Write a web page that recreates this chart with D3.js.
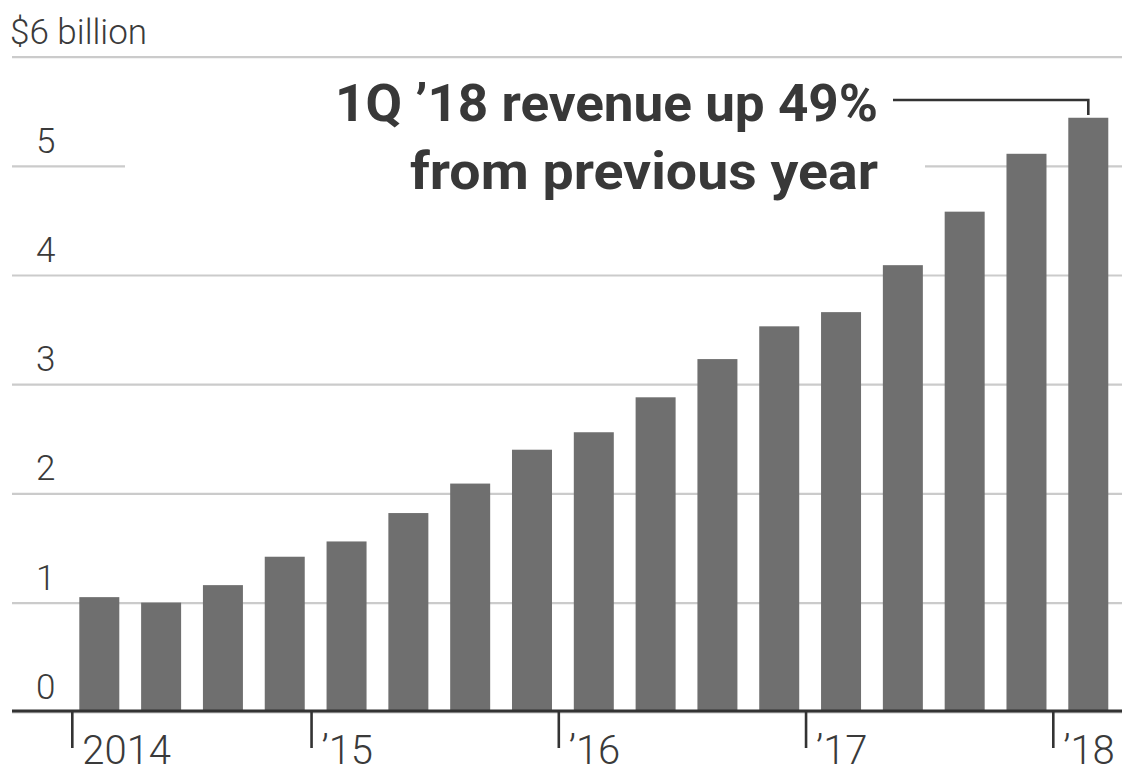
<!DOCTYPE html>
<html>
<head>
<meta charset="utf-8">
<script src="https://cdn.jsdelivr.net/npm/d3@7"></script>
<style>
  html, body { margin: 0; padding: 0; background: #fff; }
  svg { display: block; }
</style>
</head>
<body>
<svg id="chart" width="1127" height="774"></svg>
<script>
// ---- data ----
const quarters = ["1Q14","2Q14","3Q14","4Q14","1Q15","2Q15","3Q15","4Q15",
                  "1Q16","2Q16","3Q16","4Q16","1Q17","2Q17","3Q17","4Q17","1Q18"];
const revenue = [1.05, 1.00, 1.16, 1.42, 1.56, 1.82, 2.09, 2.40,
                 2.56, 2.88, 3.23, 3.53, 3.66, 4.09, 4.58, 5.11, 5.44];
const yTicks = [0, 1, 2, 3, 4, 5, 6];
const yearStarts = ["1Q14", "1Q15", "1Q16", "1Q17", "1Q18"];
const yearLabels = ["2014", "\u201915", "\u201916", "\u201917", "\u201918"];
const unitLabel = "$6 billion";
const noteLines = ["1Q \u201918 revenue up 49%", "from previous year"];
const noteQuarter = "1Q18";

// ---- layout ----
const svg = d3.select("#chart");
const left = 12, right = 1122;
const x = d3.scaleBand().domain(quarters).range([68.4, 1119.2])
  .paddingInner(0.353).paddingOuter(0.1765);
const y = d3.scaleLinear().domain([0, 6]).range([711.8, 56.6]);

const lightFont = "Roboto, 'Liberation Sans', sans-serif";

// gridlines + y labels via axis
const gy = svg.append("g").attr("transform", `translate(${left},0)`)
  .call(d3.axisRight(y).tickValues(yTicks).tickSize(right - left)
    .tickFormat(d => d === 6 ? unitLabel : String(d)));
gy.select(".domain").remove();
gy.selectAll(".tick line").attr("stroke", "#cbcbcb").attr("stroke-width", 2.2);
gy.selectAll(".tick text")
  .attr("x", d => d === 6 ? -2 : 24)
  .attr("y", -13.5)
  .attr("dy", 0)
  .attr("text-anchor", "start")
  .attr("fill", "#3a3a3a")
  .style("font-family", lightFont)
  .style("font-weight", 300)
  .style("font-size", "35px");

// backdrop for annotation (interrupts the 5 gridline)
svg.append("rect").attr("x", 125).attr("y", 72).attr("width", 800).attr("height", 135)
  .attr("fill", "#fff");

// bars
svg.append("g").selectAll("rect").data(quarters).join("rect")
  .attr("x", d => x(d))
  .attr("width", x.bandwidth())
  .attr("y", (d, i) => y(revenue[i]))
  .attr("height", (d, i) => y(0) - y(revenue[i]))
  .attr("fill", "#6f6f6f");

// baseline axis
svg.append("line").attr("x1", left).attr("x2", right)
  .attr("y1", y(0) - 0.8).attr("y2", y(0) - 0.8)
  .attr("stroke", "#333").attr("stroke-width", 3);

// year ticks + labels
const yt = svg.append("g").selectAll("g").data(yearStarts).join("g")
  .attr("transform", (d, i) => `translate(${x(d) - (i === 0 ? 7 : 15)},0)`);
yt.append("line").attr("x1", 0).attr("x2", 0)
  .attr("y1", y(0) - 1).attr("y2", 748)
  .attr("stroke", "#333").attr("stroke-width", 2.6);
yt.append("text").text((d, i) => yearLabels[i])
  .attr("x", 10).attr("y", 764)
  .attr("fill", "#3a3a3a")
  .style("font-family", lightFont)
  .style("font-weight", 300)
  .style("font-size", "40px");

// annotation
const nx = x(noteQuarter) + x.bandwidth() / 2;
svg.append("path")
  .attr("d", `M893,100 H${nx} V115`)
  .attr("fill", "none").attr("stroke", "#333").attr("stroke-width", 2.6);
const noteWidths = [543, 468];
const noteY = [121, 189];
svg.append("g").selectAll("text").data(noteLines).join("text")
  .text(d => d)
  .attr("x", 878).attr("y", (d, i) => noteY[i])
  .attr("text-anchor", "end")
  .attr("textLength", (d, i) => noteWidths[i])
  .attr("lengthAdjust", "spacingAndGlyphs")
  .attr("fill", "#383838")
  .style("font-family", "Roboto, 'Liberation Sans', sans-serif")
  .style("font-weight", 700)
  .style("font-size", "52px");
</script>
</body>
</html>
